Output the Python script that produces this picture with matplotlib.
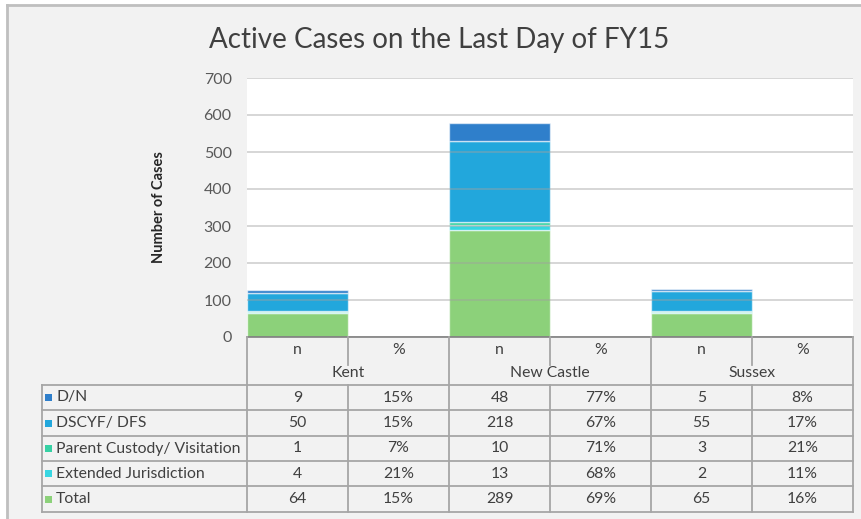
import matplotlib
matplotlib.use("Agg")
import matplotlib.pyplot as plt
from matplotlib.patches import Rectangle
from matplotlib.lines import Line2D
import matplotlib.transforms as mtransforms

plt.rcParams['font.family'] = ['Lato', 'DejaVu Sans']

# ---- data ----
counties = ["Kent", "New Castle", "Sussex"]
subcols = ["n", "%"]
series = ["D/N", "DSCYF/ DFS", "Parent Custody/ Visitation", "Extended Jurisdiction", "Total"]
dn_n = [9, 48, 5]
dscyf_n = [50, 218, 55]
parent_n = [1, 10, 3]
extended_n = [4, 13, 2]
total_n = [64, 289, 65]
dn_pct = ["15%", "77%", "8%"]
dscyf_pct = ["15%", "67%", "17%"]
parent_pct = ["7%", "71%", "21%"]
extended_pct = ["21%", "68%", "11%"]
total_pct = ["15%", "69%", "16%"]
y_ticks = [0, 100, 200, 300, 400, 500, 600, 700]

colors = {
    "D/N": "#2f7fcb",
    "DSCYF/ DFS": "#22a7dc",
    "Parent Custody/ Visitation": "#36d1a4",
    "Extended Jurisdiction": "#38d6e2",
    "Total": "#8cd17a",
}

W, H = 861, 519
fig = plt.figure(figsize=(W / 100, H / 100), dpi=100, facecolor="white")

def fx(px):
    return px / W

def fy(py):
    return 1 - py / H

# chart background frame
fig.patches.append(Rectangle((fx(7), 0), 1 - fx(7), fy(5), transform=fig.transFigure,
                             facecolor="#f2f2f2", edgecolor="none", zorder=-5))
fig.lines.append(Line2D([fx(7), fx(7)], [0, fy(5)], transform=fig.transFigure, color="#bfbfbf", lw=2, zorder=-4))
fig.lines.append(Line2D([fx(7), 1], [fy(5), fy(5)], transform=fig.transFigure, color="#bfbfbf", lw=2, zorder=-4))

ax_l, ax_r, ax_t, ax_b = 247, 853, 78, 337
ax = fig.add_axes([fx(ax_l), fy(ax_b), fx(ax_r - ax_l), fy(ax_t) - fy(ax_b)])
ax.set_zorder(1)
ax.set_facecolor("white")

ncols = len(counties) * len(subcols)
xpos = [i * 2 for i in range(len(counties))]

stack = [
    ("Total", total_n),
    ("Extended Jurisdiction", extended_n),
    ("Parent Custody/ Visitation", parent_n),
    ("DSCYF/ DFS", dscyf_n),
    ("D/N", dn_n),
]
bottom = [0] * len(counties)
for name, vals in stack:
    ax.bar(xpos, vals, width=1.0, bottom=bottom, color=colors[name],
           edgecolor=(1, 1, 1, 0.6), linewidth=1.0, zorder=2)
    bottom = [b + v for b, v in zip(bottom, vals)]

ax.set_xlim(-0.5, ncols - 0.5)
ax.set_ylim(0, 700)
ax.set_yticks(y_ticks)
ax.set_yticklabels([str(t) for t in y_ticks], fontsize=11.5, color="#595959")
ax.tick_params(axis="y", length=0, pad=11)
ax.set_xticks([])
for s in ["top", "right", "left"]:
    ax.spines[s].set_visible(False)
ax.spines["bottom"].set_color("#7f7f7f")
ax.spines["bottom"].set_linewidth(1.2)
ax.spines["bottom"].set_zorder(4)
ax.yaxis.grid(True, color="#a0a0a0", alpha=0.5, linewidth=1.2, zorder=3)
ax.set_axisbelow(False)

ax.set_ylabel("Number of Cases", fontsize=10.5, fontweight="bold", color="#262626", labelpad=27)

fig.text(fx(439), fy(40), "Active Cases on the Last Day of FY15",
         ha="center", va="center", fontsize=20, color="#404040")

# ---- data table ----
tr = mtransforms.blended_transform_factory(ax.transData, fig.transFigure)
lc = "#a6a6a6"
lw = 1.3
label_left = -0.5 - (ax_l - 42) / ((ax_r - ax_l) / ncols)
xl, xr = -0.5, ncols - 0.5

hdr_top, hdr_mid, hdr_bot = 337, 365, 385
row_edges = [385, 410, 436, 461, 486, 512]

def hline(x0, x1, py):
    fig.lines.append(Line2D([x0, x1], [fy(py), fy(py)], transform=tr, color=lc, lw=lw, zorder=5))

def vline(x, py0, py1):
    fig.lines.append(Line2D([x, x], [fy(py0), fy(py1)], transform=tr, color=lc, lw=lw, zorder=5))

for py in row_edges:
    hline(label_left, xr, py)
vline(label_left, row_edges[0], row_edges[-1])
for c in range(len(counties) + 1):
    vline(xl + 2 * c, hdr_top, row_edges[-1])
for c in range(len(counties)):
    xm = xl + 2 * c + 1
    vline(xm, hdr_top, hdr_mid)
    vline(xm, row_edges[0], row_edges[-1])

tc = "#404040"
fs = 11.3
for c, county in enumerate(counties):
    for j, sc in enumerate(subcols):
        fig.text(2 * c + j, fy(350), sc, transform=tr, ha="center", va="center", fontsize=fs, color=tc)
    fig.text(2 * c + 0.5, fy(373), county, transform=tr, ha="center", va="center", fontsize=fs, color=tc)

rows = [
    ("D/N", dn_n, dn_pct),
    ("DSCYF/ DFS", dscyf_n, dscyf_pct),
    ("Parent Custody/ Visitation", parent_n, parent_pct),
    ("Extended Jurisdiction", extended_n, extended_pct),
    ("Total", total_n, total_pct),
]
for r, (name, nvals, pvals) in enumerate(rows):
    yc = fy((row_edges[r] + row_edges[r + 1]) / 2)
    fig.patches.append(Rectangle((fx(45), yc - 3.5 / H), 7 / W, 7 / H, transform=fig.transFigure,
                                 facecolor=colors[name], edgecolor="none", zorder=6))
    fig.text(fx(56), yc, name, ha="left", va="center", fontsize=fs, color=tc)
    for c in range(len(counties)):
        fig.text(2 * c, yc, str(nvals[c]), transform=tr, ha="center", va="center", fontsize=fs, color=tc)
        fig.text(2 * c + 1, yc, pvals[c], transform=tr, ha="center", va="center", fontsize=fs, color=tc)

fig.savefig("out.png", dpi=100, facecolor=fig.get_facecolor())
